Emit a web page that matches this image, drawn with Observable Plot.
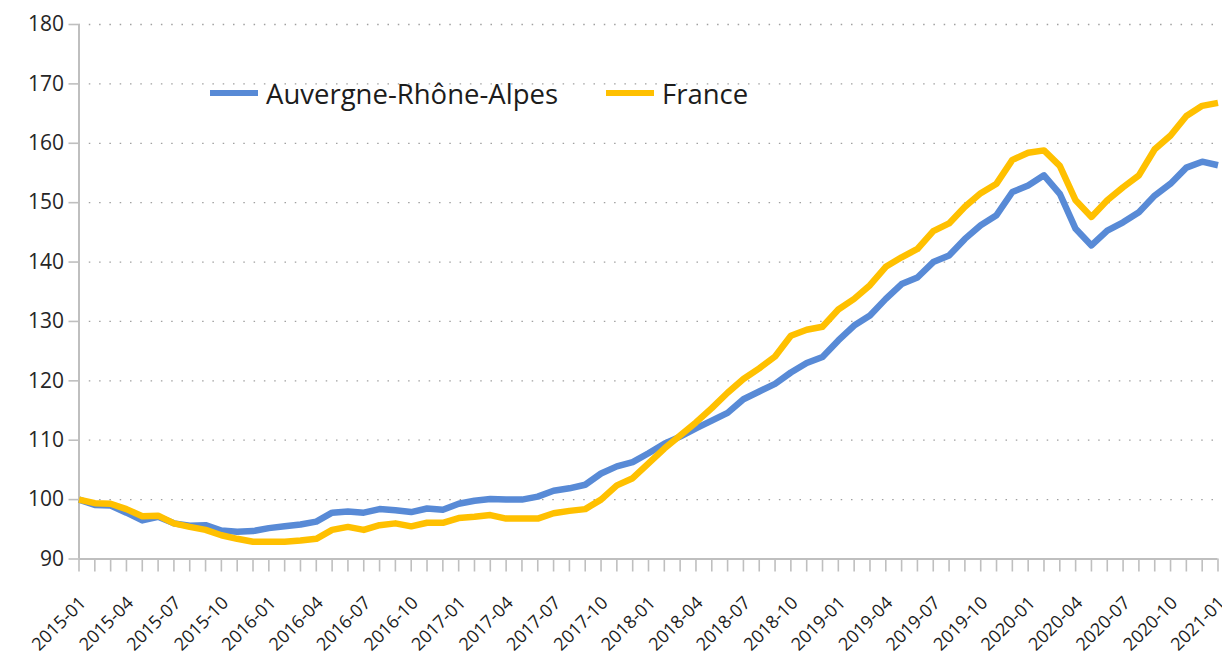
<!DOCTYPE html>
<html>
<head>
<meta charset="utf-8">
<script src="https://cdn.jsdelivr.net/npm/d3@7"></script>
<script src="https://cdn.jsdelivr.net/npm/@observablehq/plot@0.6"></script>
<style>
  html, body { margin: 0; padding: 0; background: #ffffff; }
  #wrap { position: relative; width: 1222px; height: 666px; overflow: hidden; font-family: "Open Sans", sans-serif; }
  #legend { position: absolute; left: 0; top: 0; width: 1222px; height: 0; }
  .item { position: absolute; display: flex; align-items: center; height: 40px; top: 73px; font-size: 27.5px; color: #1c1c1c; white-space: nowrap; }
  .sw { width: 48px; height: 6px; margin-right: 8px; }
</style>
</head>
<body>
<div id="wrap"><div id="legend"></div></div>
<script>
const months = [
  "2015-01","2015-02","2015-03","2015-04","2015-05","2015-06","2015-07","2015-08","2015-09","2015-10","2015-11","2015-12",
  "2016-01","2016-02","2016-03","2016-04","2016-05","2016-06","2016-07","2016-08","2016-09","2016-10","2016-11","2016-12",
  "2017-01","2017-02","2017-03","2017-04","2017-05","2017-06","2017-07","2017-08","2017-09","2017-10","2017-11","2017-12",
  "2018-01","2018-02","2018-03","2018-04","2018-05","2018-06","2018-07","2018-08","2018-09","2018-10","2018-11","2018-12",
  "2019-01","2019-02","2019-03","2019-04","2019-05","2019-06","2019-07","2019-08","2019-09","2019-10","2019-11","2019-12",
  "2020-01","2020-02","2020-03","2020-04","2020-05","2020-06","2020-07","2020-08","2020-09","2020-10","2020-11","2020-12",
  "2021-01"
];
const quarterLabels = [
  "2015-01","2015-04","2015-07","2015-10","2016-01","2016-04","2016-07","2016-10",
  "2017-01","2017-04","2017-07","2017-10","2018-01","2018-04","2018-07","2018-10",
  "2019-01","2019-04","2019-07","2019-10","2020-01","2020-04","2020-07","2020-10","2021-01"
];
const yTicks = [90, 100, 110, 120, 130, 140, 150, 160, 170, 180];
const gridTicks = [100, 110, 120, 130, 140, 150, 160, 170, 180];

const seriesNames = ["Auvergne-Rhône-Alpes", "France"];
const seriesColors = ["#588ad6", "#ffc000"];

const araValues = [
  100.0, 99.1, 99.0, 97.8, 96.5, 97.1, 96.0, 95.6, 95.7, 94.8, 94.6, 94.7,
  95.2, 95.5, 95.8, 96.3, 97.8, 98.0, 97.8, 98.4, 98.2, 97.9, 98.5, 98.3,
  99.3, 99.8, 100.1, 100.0, 100.0, 100.5, 101.5, 101.9, 102.5, 104.4, 105.6, 106.3,
  107.8, 109.4, 110.6, 112.0, 113.3, 114.6, 116.9, 118.2, 119.5, 121.4, 123.0, 124.0,
  126.8, 129.3, 131.0, 133.8, 136.3, 137.4, 140.0, 141.1, 143.9, 146.2, 147.9, 151.8,
  152.9, 154.6, 151.5, 145.6, 142.8, 145.3, 146.7, 148.4, 151.2, 153.2, 155.9, 156.9,
  156.3
];
const franceValues = [
  100.0, 99.4, 99.3, 98.4, 97.2, 97.3, 96.0, 95.4, 94.9, 94.0, 93.4, 92.9,
  92.9, 92.9, 93.1, 93.4, 94.9, 95.4, 94.9, 95.7, 96.0, 95.5, 96.1, 96.1,
  96.9, 97.1, 97.4, 96.8, 96.8, 96.8, 97.7, 98.1, 98.4, 100.0, 102.4, 103.6,
  106.1, 108.6, 110.8, 113.0, 115.4, 118.0, 120.3, 122.1, 124.1, 127.6, 128.6, 129.1,
  132.0, 133.8, 136.1, 139.2, 140.8, 142.2, 145.2, 146.5, 149.3, 151.6, 153.2, 157.2,
  158.4, 158.8, 156.2, 150.4, 147.6, 150.4, 152.6, 154.6, 159.0, 161.3, 164.6, 166.3,
  166.8
];

const rows = [];
months.forEach((m, i) => rows.push({month: m, value: araValues[i], series: seriesNames[0]}));
months.forEach((m, i) => rows.push({month: m, value: franceValues[i], series: seriesNames[1]}));

const axisGrey = "#bfbfbf";

const chart = Plot.plot({
  width: 1222,
  height: 666,
  marginLeft: 78.5,
  marginRight: 4.5,
  marginTop: 24,
  marginBottom: 107.5,
  style: {fontFamily: "'Open Sans', sans-serif", background: "transparent", color: "#262626", overflow: "visible"},
  x: {type: "point", domain: months, padding: 0, label: null},
  y: {domain: [90, 180], label: null},
  color: {domain: seriesNames, range: seriesColors},
  marks: [
    Plot.gridY(gridTicks, {stroke: "#a0a0a0", strokeOpacity: 1, strokeWidth: 1.3, strokeDasharray: "1.5,8.8"}),
    Plot.axisY(yTicks, {tickSize: 10, tickPadding: 5, fontSize: 21, stroke: axisGrey, strokeWidth: 1.6, fill: "#262626", label: null}),
    Plot.axisX(months, {tickSize: 13, tickFormat: () => "", stroke: axisGrey, strokeWidth: 1.6, label: null}),
    Plot.axisX(quarterLabels, {tickSize: 0, tickRotate: -45, tickPadding: 41, dx: 4, fontSize: 18, fill: "#1c1c1c", label: null}),
    Plot.ruleY([90], {stroke: axisGrey, strokeWidth: 2}),
    Plot.ruleX([months[0]], {stroke: axisGrey, strokeWidth: 2}),
    Plot.line(rows, {x: "month", y: "value", z: "series", stroke: "series", strokeWidth: 6.5, strokeLinejoin: "round", strokeLinecap: "butt"})
  ]
});
chart.style.position = "absolute";
chart.style.left = "0px";
chart.style.top = "0px";
const wrap = document.getElementById("wrap");
wrap.insertBefore(chart, wrap.firstChild);

const legend = document.getElementById("legend");
const legendLeft = [210, 606];
seriesNames.forEach((name, i) => {
  const item = document.createElement("div");
  item.className = "item";
  item.style.left = legendLeft[i] + "px";
  const sw = document.createElement("span");
  sw.className = "sw";
  sw.style.background = seriesColors[i];
  const tx = document.createElement("span");
  tx.textContent = name;
  item.appendChild(sw);
  item.appendChild(tx);
  legend.appendChild(item);
});
</script>
</body>
</html>
